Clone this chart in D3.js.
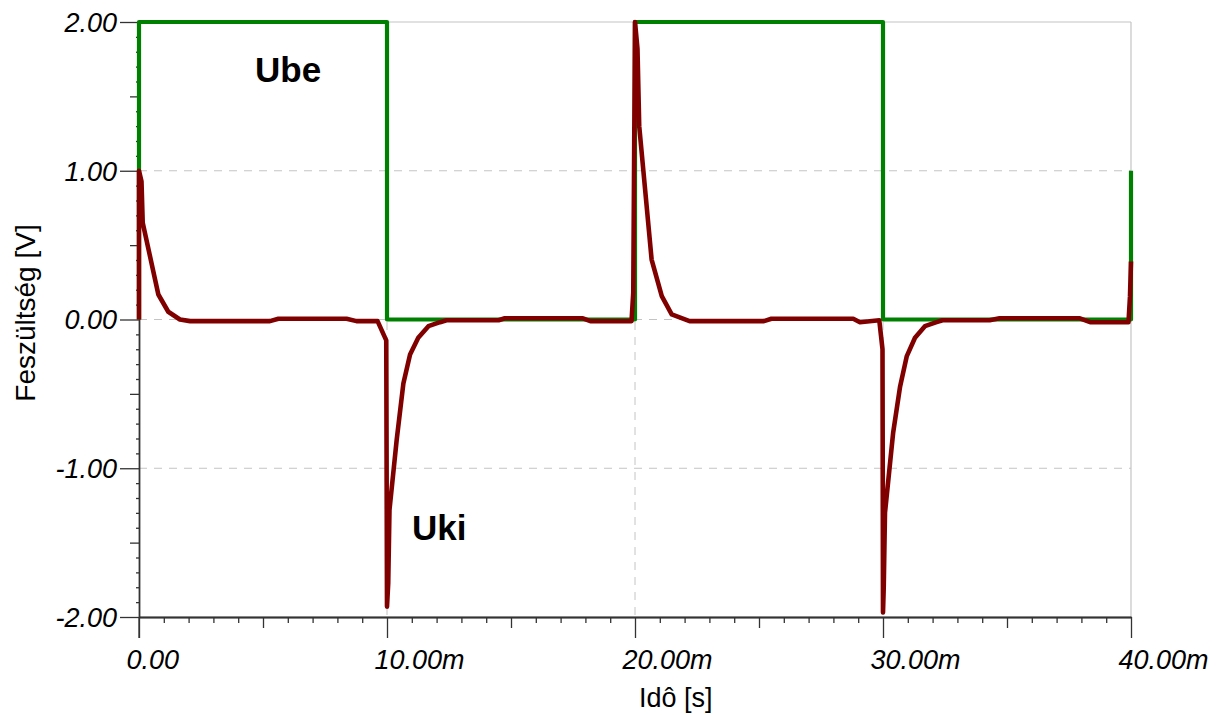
<!DOCTYPE html>
<html>
<head>
<meta charset="utf-8">
<script src="https://cdn.jsdelivr.net/npm/d3@7"></script>
<style>
  html, body { margin: 0; padding: 0; background: #ffffff; }
  svg { display: block; font-family: "Liberation Sans", Arial, sans-serif; }
</style>
</head>
<body>
<svg id="chart" width="1216" height="715"></svg>
<script>
// ---- data (time in ms, voltage in V) ----
const ubeTime = [0, 0, 10, 10, 20, 20, 30, 30, 40, 40];
const ubeVolt = [0, 2, 2, 0, 0, 2, 2, 0, 0, 1];

const ukiTime = [0, 0, 0.1, 0.15, 0.78, 1.18, 1.65, 2.06, 5.28, 5.62, 8.37, 8.77, 9.62, 9.97,
  10.0, 10.05, 10.1, 10.39, 10.66, 10.93, 11.26, 11.67, 12.14, 12.4, 14.5, 14.75, 17.9, 18.2,
  19.86, 19.93, 20.0, 20.1, 20.17, 20.67, 21.08, 21.48, 22.2, 25.2, 25.5, 28.8, 29.07, 29.85, 29.98,
  30.0, 30.03, 30.08, 30.41, 30.69, 30.96, 31.29, 31.69, 32.16, 32.4, 34.3, 34.7, 37.94, 38.35,
  39.9, 39.96, 40.0];
const ukiVolt = [0, 1.0, 0.93, 0.65, 0.168, 0.052, 0.0, -0.011, -0.011, 0.005, 0.005, -0.011, -0.011, -0.14,
  -1.93, -1.77, -1.28, -0.81, -0.43, -0.235, -0.123, -0.045, -0.018, -0.005, -0.005, 0.008, 0.008, -0.011,
  -0.011, 0.18, 2.0, 1.82, 1.30, 0.403, 0.157, 0.034, -0.011, -0.011, 0.005, 0.005, -0.018, -0.005, -0.20,
  -1.97, -1.80, -1.30, -0.76, -0.45, -0.246, -0.123, -0.045, -0.018, -0.005, -0.005, 0.008, 0.008, -0.018,
  -0.018, 0.157, 0.39];

const xMajor = [0, 10, 20, 30, 40];
const xMid = [5, 15, 25, 35];
const xMinor = d3.range(0, 41).filter(d => d % 5 !== 0);
const yMajor = [-2, -1, 0, 1, 2];
const yMid = [-1.5, -0.5, 0.5, 1.5];
const yMinor = d3.range(-20, 21).filter(d => d % 5 !== 0).map(d => d / 10);
const gridX = [10, 20, 30];
const gridY = [-1, 0, 1];

const xTitle = "Idô [s]";
const yTitle = "Feszültség [V]";
const seriesLabels = ["Ube", "Uki"];

// ---- layout ----
const svg = d3.select("#chart");
const x = d3.scaleLinear().domain([0, 40]).range([139, 1131]);
const y = d3.scaleLinear().domain([-2, 2]).range([617, 22]);

const gridColor = "#c4c4c4";
const axisColor = "#333333";

// grid
const g = svg.append("g");
g.selectAll(".gy").data(gridY).join("line")
  .attr("x1", x(0)).attr("x2", x(40))
  .attr("y1", d => y(d)).attr("y2", d => y(d))
  .attr("stroke", gridColor).attr("stroke-width", 1).attr("stroke-dasharray", "8,7");
g.selectAll(".gx").data(gridX).join("line")
  .attr("y1", y(2)).attr("y2", y(-2))
  .attr("x1", d => x(d)).attr("x2", d => x(d))
  .attr("stroke", gridColor).attr("stroke-width", 1).attr("stroke-dasharray", "8,7");
// frame top & right
svg.append("line").attr("x1", x(0)).attr("x2", x(40)).attr("y1", y(2)).attr("y2", y(2))
  .attr("stroke", gridColor).attr("stroke-width", 1.2);
svg.append("line").attr("x1", x(40)).attr("x2", x(40)).attr("y1", y(2)).attr("y2", y(-2))
  .attr("stroke", gridColor).attr("stroke-width", 1.2);

// axes
function styleAxis(sel) {
  sel.select(".domain").attr("stroke", axisColor).attr("stroke-width", 1.3);
  sel.selectAll(".tick line").attr("stroke", axisColor).attr("stroke-width", 1.3);
}
const xAxisG = svg.append("g").attr("transform", `translate(0,${y(-2)})`);
xAxisG.append("g").call(d3.axisBottom(x).tickValues(xMinor).tickSize(6).tickSizeOuter(0).tickFormat(""))
  .call(styleAxis);
xAxisG.append("g").call(d3.axisBottom(x).tickValues(xMid).tickSize(11).tickSizeOuter(0).tickFormat(""))
  .call(styleAxis);
const xMaj = xAxisG.append("g").call(d3.axisBottom(x).tickValues(xMajor).tickSize(21).tickSizeOuter(0)
  .tickFormat(d => d === 0 ? "0.00" : d.toFixed(2) + "m"))
  .call(styleAxis);
xMaj.selectAll(".tick text")
  .attr("font-family", "Liberation Sans, Arial, sans-serif")
  .attr("font-size", 27).attr("font-style", "italic").attr("fill", "#000")
  .attr("text-anchor", "start").attr("x", -13).attr("dy", null).attr("y", 52);

const yAxisG = svg.append("g").attr("transform", `translate(${x(0)},0)`);
yAxisG.append("g").call(d3.axisLeft(y).tickValues(yMinor).tickSize(3).tickSizeOuter(0).tickFormat(""))
  .call(styleAxis);
yAxisG.append("g").call(d3.axisLeft(y).tickValues(yMid).tickSize(9).tickSizeOuter(0).tickFormat(""))
  .call(styleAxis);
const yMaj = yAxisG.append("g").call(d3.axisLeft(y).tickValues(yMajor).tickSize(19).tickSizeOuter(0)
  .tickFormat(d => d.toFixed(2)))
  .call(styleAxis);
yMaj.selectAll(".tick text")
  .attr("font-family", "Liberation Sans, Arial, sans-serif")
  .attr("font-size", 27).attr("font-style", "italic").attr("fill", "#000")
  .attr("x", -22).attr("dy", "0.35em");
// y axis line extends below the x axis
yAxisG.append("line").attr("x1", 0).attr("x2", 0).attr("y1", y(-2)).attr("y2", y(-2) + 21)
  .attr("stroke", axisColor).attr("stroke-width", 1.3);

// titles
svg.append("text").attr("x", 639).attr("y", 707)
  .attr("font-size", 27).attr("fill", "#000").text(xTitle);
svg.append("text").attr("transform", "translate(35,313) rotate(-90)")
  .attr("text-anchor", "middle").attr("font-size", 28).attr("fill", "#000").text(yTitle);

// series
const ubeData = ubeTime.map((t, i) => [t, ubeVolt[i]]);
const ukiData = ukiTime.map((t, i) => [t, ukiVolt[i]]);
const line = d3.line().x(d => x(d[0])).y(d => y(d[1]));

svg.append("path").datum(ubeData).attr("d", line)
  .attr("fill", "none").attr("stroke", "#008000").attr("stroke-width", 4.2)
  .attr("stroke-linejoin", "round");
svg.append("path").datum(ukiData).attr("d", line)
  .attr("fill", "none").attr("stroke", "#800000").attr("stroke-width", 4.6)
  .attr("stroke-linejoin", "round");

// series labels
svg.append("text").attr("x", 255).attr("y", 82).attr("font-size", 35).attr("font-weight", "bold")
  .attr("fill", "#000").text(seriesLabels[0]);
svg.append("text").attr("x", 412).attr("y", 540).attr("font-size", 35).attr("font-weight", "bold")
  .attr("fill", "#000").text(seriesLabels[1]);
</script>
</body>
</html>
